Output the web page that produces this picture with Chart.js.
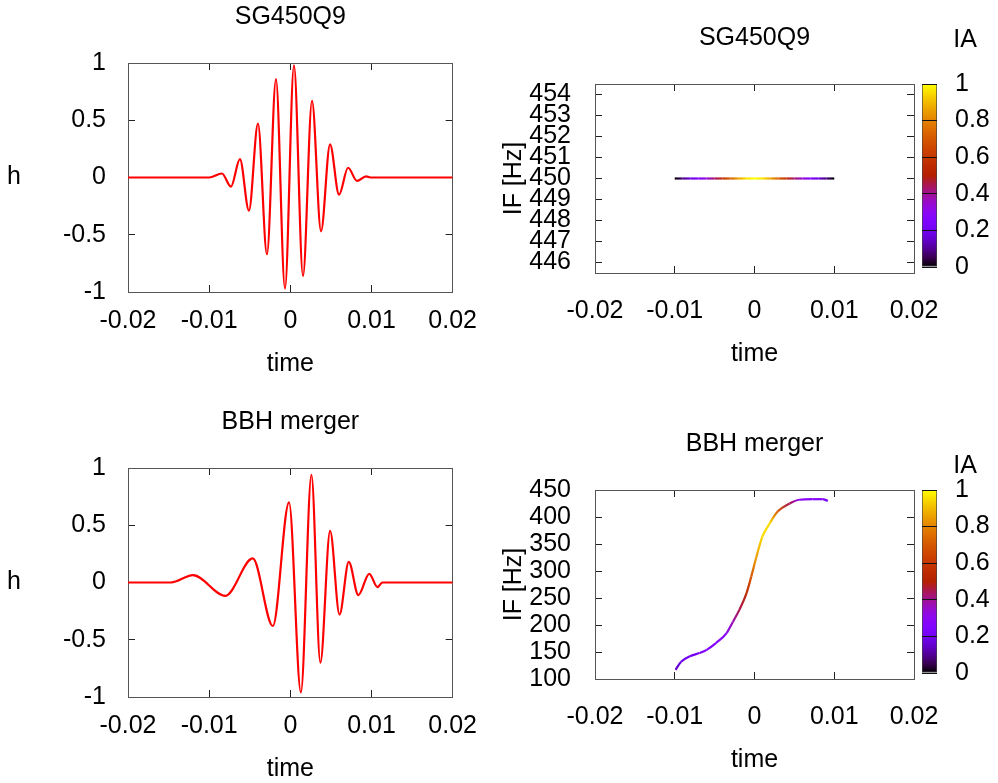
<!DOCTYPE html>
<html>
<head>
<meta charset="utf-8">
<script src="https://cdn.jsdelivr.net/npm/chart.js@4"></script>
<style>
  html, body { margin: 0; background: #fff; overflow: hidden; }
  #wrap { position: relative; width: 998px; height: 783px; }
  canvas { position: absolute; }
</style>
</head>
<body>
<div id="wrap">
  <canvas id="sgWave" width="498" height="379" style="left:0;top:0"></canvas>
  <canvas id="bbhWave" width="498" height="379" style="left:0;top:405px"></canvas>
  <canvas id="sgIF" width="500" height="369" style="left:498px;top:0"></canvas>
  <canvas id="bbhIF" width="500" height="369" style="left:498px;top:406px"></canvas>
  <canvas id="sgBar" width="84" height="300" style="left:914px;top:0"></canvas>
  <canvas id="bbhBar" width="84" height="300" style="left:914px;top:406px"></canvas>
</div>
<script>
// --- data ---
const timeTicks = [-0.02, -0.01, 0, 0.01, 0.02];
const hTicks = [-1, -0.5, 0, 0.5, 1];
const sgIfTicks = [446, 447, 448, 449, 450, 451, 452, 453, 454];
const bbhIfTicks = [100, 150, 200, 250, 300, 350, 400, 450];
const iaTicks = [0, 0.2, 0.4, 0.6, 0.8, 1];

// SG450Q9 waveform (extrema)
const sgTime = [-0.02, -0.01, -0.00843, -0.00732, -0.00621, -0.0051, -0.00399, -0.00288, -0.00177, -0.00066,
  0.00045, 0.00156, 0.00267, 0.00378, 0.00489, 0.006, 0.00711, 0.00822, 0.00933, 0.01, 0.02];
const sgH = [0, 0, 0.035, -0.08, 0.16, -0.29, 0.47, -0.67, 0.86, -0.97,
  0.98, -0.86, 0.67, -0.47, 0.29, -0.15, 0.085, -0.03, 0.01, 0, 0];

// BBH merger waveform (extrema)
const bbhTime = [-0.02, -0.0147, -0.012, -0.008, -0.00463, -0.00215, -0.00016, 0.0013, 0.0026,
  0.0037, 0.0049, 0.00606, 0.0072, 0.00838, 0.00972, 0.01073, 0.01134, 0.02];
const bbhH = [0, 0, 0.064, -0.116, 0.21, -0.38, 0.70, -0.96, 0.94,
  -0.70, 0.45, -0.28, 0.18, -0.11, 0.076, -0.04, 0, 0];

// SG450Q9 instantaneous frequency / amplitude
const sgIfTime = [-0.010, -0.009, -0.008, -0.007, -0.006, -0.005, -0.004, -0.003, -0.002, -0.001, 0,
  0.001, 0.002, 0.003, 0.004, 0.005, 0.006, 0.007, 0.008, 0.009, 0.010];
const sgIf = [450, 450, 450, 450, 450, 450, 450, 450, 450, 450, 450,
  450, 450, 450, 450, 450, 450, 450, 450, 450, 450];
const sgIa = [0.0, 0.08, 0.18, 0.26, 0.34, 0.43, 0.57, 0.72, 0.86, 0.96, 1.0,
  0.96, 0.86, 0.72, 0.57, 0.43, 0.34, 0.26, 0.18, 0.08, 0.0];

// BBH merger instantaneous frequency / amplitude
const bbhIfTime = [-0.0099, -0.0092, -0.0081, -0.0069, -0.006, -0.0048, -0.0035, -0.0027, -0.0019, -0.001,
  -0.0004, 0.0002, 0.001, 0.0019, 0.0029, 0.0044, 0.0056, 0.0073, 0.0085, 0.0092];
const bbhIf = [117, 132, 142, 148, 154, 167, 185, 206, 228, 259,
  290, 324, 364, 388, 410, 425, 432, 433, 433, 430];
const bbhIa = [0.15, 0.18, 0.2, 0.22, 0.25, 0.27, 0.3, 0.38, 0.45, 0.55,
  0.7, 0.85, 0.95, 0.95, 0.72, 0.45, 0.3, 0.28, 0.27, 0.2];

// --- style ---
const FONT = 25;
Chart.defaults.font.family = '"Liberation Sans", Arial, sans-serif';
Chart.defaults.font.size = FONT;
Chart.defaults.color = '#000';
Chart.defaults.animation = false;

// gnuplot default palette (rgbformulae 7,5,15)
function palette(v) {
  const r = Math.sqrt(v), g = v * v * v, b = Math.max(0, Math.sin(2 * Math.PI * v));
  return 'rgb(' + Math.round(255 * r) + ',' + Math.round(255 * g) + ',' + Math.round(255 * b) + ')';
}

const freeText = {
  id: 'freeText',
  afterDraw(chart, args, opts) {
    const c = chart.ctx;
    (opts.items || []).forEach(it => {
      c.save();
      c.font = FONT + 'px "Liberation Sans", Arial, sans-serif';
      c.fillStyle = '#000';
      c.textAlign = 'center';
      c.textBaseline = 'middle';
      c.fillText(it.text, it.x, it.y);
      c.restore();
    });
  }
};

function fixTicks(vals) {
  return s => { s.ticks = vals.map(v => ({ value: v })); };
}

// one axis of a gnuplot-like frame: inward ticks, labels only on left/bottom
function frameAxis(pos, min, max, vals, size, pad, title) {
  const shown = pos === 'left' || pos === 'bottom';
  const horiz = pos === 'top' || pos === 'bottom';
  return {
    type: 'linear', position: pos, min: min, max: max,
    afterBuildTicks: fixTicks(vals),
    afterFit: s => { if (horiz) s.height = size; else s.width = size; },
    grid: { drawOnChartArea: false, tickLength: -7, tickColor: '#222', lineWidth: 1 },
    border: { color: '#555', width: 1 },
    ticks: { display: shown, autoSkip: false, maxRotation: 0, padding: pad, callback: v => String(v) },
    title: title ? { display: true, text: title, padding: { top: 1, bottom: 0 }, font: { size: FONT } } : { display: false }
  };
}

function waveChart(id, title, times, values) {
  return new Chart(document.getElementById(id), {
    type: 'line',
    data: {
      datasets: [{
        data: times.map((t, i) => ({ x: t, y: values[i] })),
        borderColor: '#ff0000', borderWidth: 2.2, pointRadius: 0,
        cubicInterpolationMode: 'monotone', fill: false
      }]
    },
    options: {
      responsive: false,
      layout: { padding: { left: 0, right: 43, top: 0, bottom: 0 } },
      plugins: {
        legend: { display: false }, tooltip: { enabled: false },
        title: { display: true, text: title, fullSize: false, color: '#000',
          padding: { top: 2, bottom: 31 }, font: { size: FONT, weight: 'normal' } },
        freeText: { items: [{ text: 'h', x: 14, y: 177 }] }
      },
      scales: {
        x: frameAxis('bottom', -0.02, 0.02, timeTicks, 87, 21, 'time'),
        x2: frameAxis('top', -0.02, 0.02, timeTicks, 0, 0),
        y: frameAxis('left', -1, 1, hTicks, 128, 29),
        y2: frameAxis('right', -1, 1, hTicks, 0, 0)
      }
    },
    plugins: [freeText]
  });
}

function ifChart(id, title, times, freqs, amps, ymin, ymax, yvals) {
  const canvas = document.getElementById(id);
  const g = canvas.getContext('2d');
  return new Chart(canvas, {
    type: 'line',
    data: {
      datasets: [{
        data: times.map((t, i) => ({ x: t, y: freqs[i] })),
        borderWidth: 2.2, pointRadius: 0, borderColor: '#000',
        cubicInterpolationMode: 'monotone', fill: false,
        segment: {
          borderColor: s => {
            const gr = g.createLinearGradient(s.p0.x, s.p0.y, s.p1.x, s.p1.y);
            gr.addColorStop(0, palette(amps[s.p0DataIndex]));
            gr.addColorStop(1, palette(amps[s.p1DataIndex]));
            return gr;
          }
        }
      }]
    },
    options: {
      responsive: false,
      layout: { padding: { left: 0, right: 84, top: 0, bottom: 0 } },
      plugins: {
        legend: { display: false }, tooltip: { enabled: false },
        title: { display: true, text: title, fullSize: false, color: '#000',
          padding: { top: 23, bottom: 31 }, font: { size: FONT, weight: 'normal' } }
      },
      scales: {
        x: frameAxis('bottom', -0.02, 0.02, timeTicks, 96, 30, 'time'),
        x2: frameAxis('top', -0.02, 0.02, timeTicks, 0, 0),
        y: frameAxis('left', ymin, ymax, yvals, 97, 31, 'IF [Hz]'),
        y2: frameAxis('right', ymin, ymax, yvals, 0, 0)
      }
    }
  });
}

function colorBar(id, iaY) {
  return new Chart(document.getElementById(id), {
    type: 'bar',
    data: {
      labels: ['IA'],
      datasets: [{
        data: [[0, 1]],
        barPercentage: 1, categoryPercentage: 1,
        borderWidth: 1, borderColor: '#444', borderSkipped: false,
        backgroundColor: c => {
          const a = c.chart.chartArea;
          if (!a) return '#000';
          const gr = c.chart.ctx.createLinearGradient(0, a.bottom, 0, a.top);
          for (let k = 0; k <= 20; k++) gr.addColorStop(k / 20, palette(k / 20));
          return gr;
        }
      }]
    },
    options: {
      responsive: false,
      layout: { padding: { left: 8, right: 0, top: 84, bottom: 27 } },
      plugins: {
        legend: { display: false }, tooltip: { enabled: false },
        freeText: { items: [{ text: 'IA', x: 51, y: iaY }] }
      },
      scales: {
        x: { display: false },
        y: {
          position: 'right', min: 0, max: 1,
          afterBuildTicks: fixTicks(iaTicks),
          afterFit: s => { s.width = 61; },
          grid: { drawTicks: false, color: '#111', lineWidth: 1, z: 1 },
          border: { display: false },
          ticks: { padding: 18, autoSkip: false, callback: v => String(v) }
        }
      }
    },
    plugins: [freeText]
  });
}

waveChart('sgWave', 'SG450Q9', sgTime, sgH);
waveChart('bbhWave', 'BBH merger', bbhTime, bbhH);
ifChart('sgIF', 'SG450Q9', sgIfTime, sgIf, sgIa, 445.5, 454.5, sgIfTicks);
ifChart('bbhIF', 'BBH merger', bbhIfTime, bbhIf, bbhIa, 100, 450, bbhIfTicks);
colorBar('sgBar', 40);
colorBar('bbhBar', 60);
</script>
</body>
</html>
